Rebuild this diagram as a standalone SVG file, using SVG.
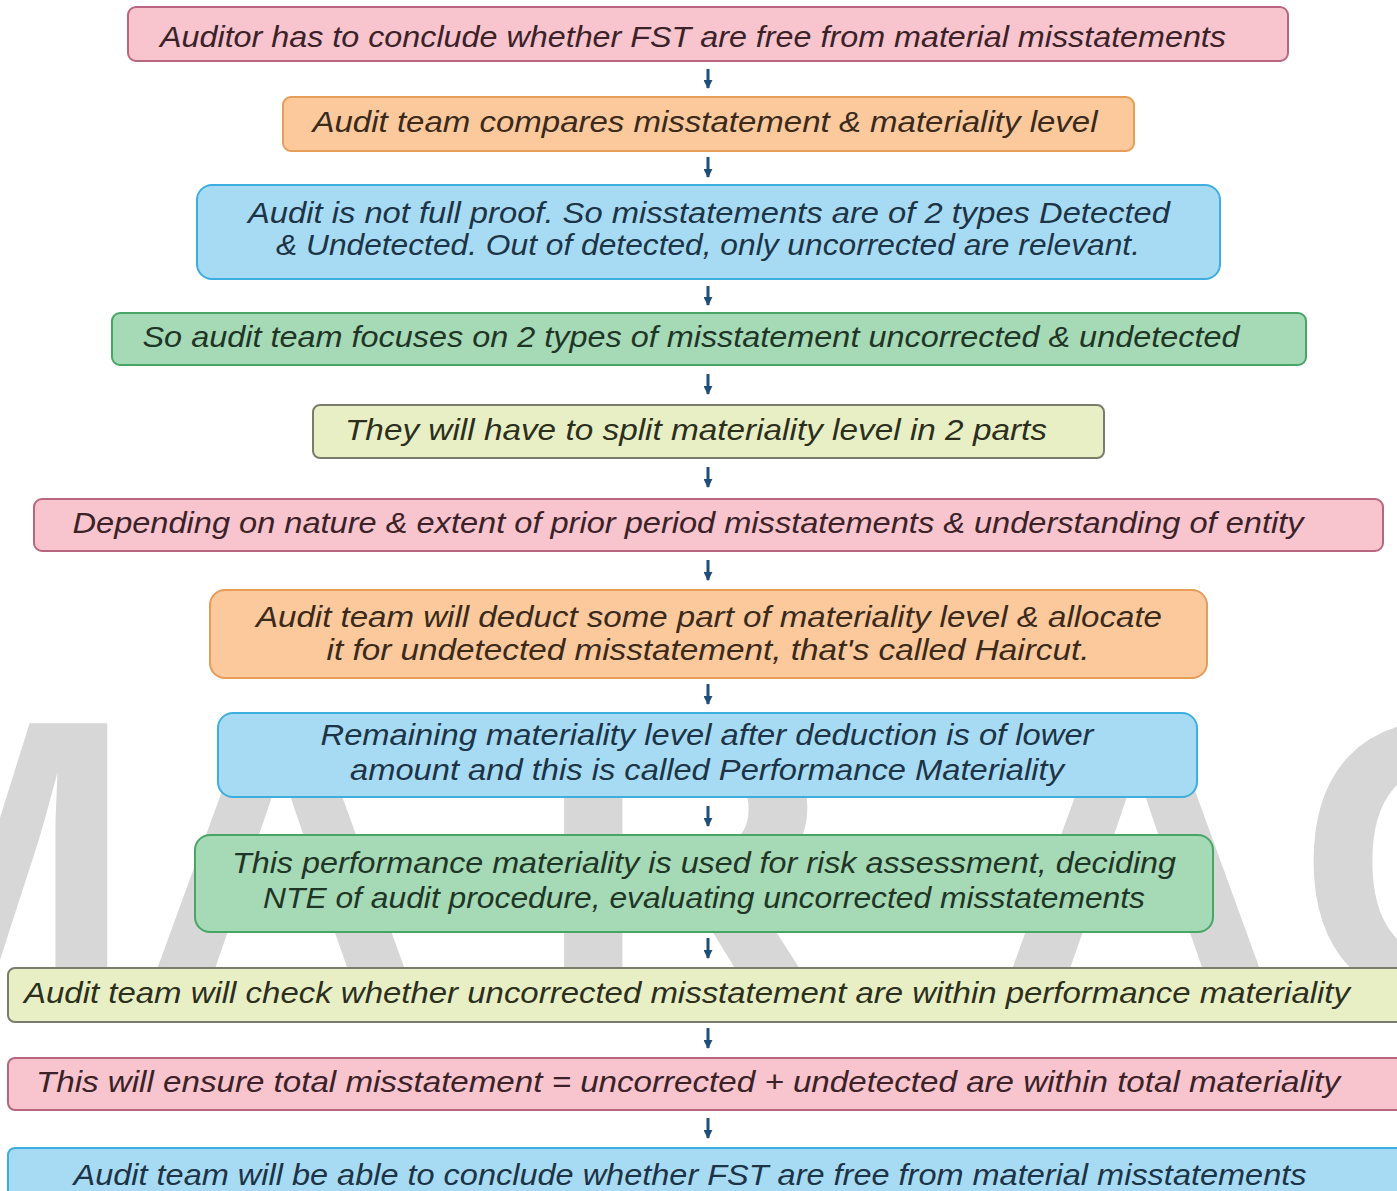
<svg xmlns="http://www.w3.org/2000/svg" width="1397" height="1191" viewBox="0 0 1397 1191">
  <defs>
    <style>
      .t { font-family: "Liberation Sans", "DejaVu Sans", sans-serif; font-style: italic; font-size: 29px; text-anchor: middle; }
      .wm { font-family: "Liberation Sans", Arial, sans-serif; font-weight: bold; font-size: 405px; fill: #d7d7d7; }
      .pink rect { fill: #f8c4cd; stroke: #b8667f; stroke-width: 2; }
      .pink text { fill: #3a2228; }
      .orange rect { fill: #fbc99c; stroke: #e79c58; stroke-width: 2; }
      .orange text { fill: #3a2a1c; }
      .blue rect { fill: #a7dbf4; stroke: #3eaee0; stroke-width: 2; }
      .blue text { fill: #1d3346; }
      .green rect { fill: #a6d9b6; stroke: #47a566; stroke-width: 2; }
      .green text { fill: #1f3626; }
      .yellow rect { fill: #e9efc4; stroke: #7c7c6c; stroke-width: 2; }
      .yellow text { fill: #2c2f1e; }
      .conn line { stroke: #1f4e79; stroke-width: 3; }
    </style>
    <!-- arrowhead drawn along +x so orient="auto" turns it to point down the line -->
    <marker id="head" viewBox="0 0 10 10" refX="9" refY="5" markerWidth="3" markerHeight="3" markerUnits="strokeWidth" orient="auto">
      <path d="M0,0 L10,5 L0,10 Z" fill="#1f4e79"/>
    </marker>
  </defs>

  <rect width="1397" height="1191" fill="#ffffff"/>

  <!-- background watermark lettering -->
  <g id="watermark">
    <text class="wm" x="-203" y="1002">M</text>
    <text class="wm" x="135" y="1002">A</text>
    <text class="wm" x="537" y="1002">R</text>
    <text class="wm" x="990" y="1002">A</text>
    <text class="wm" x="1297" y="1002">C</text>
  </g>

  <!-- connectors -->
  <g id="connectors" class="conn">
    <line x1="708" y1="69" x2="708" y2="88" marker-end="url(#head)"/>
    <line x1="708" y1="157" x2="708" y2="177" marker-end="url(#head)"/>
    <line x1="708" y1="286" x2="708" y2="305" marker-end="url(#head)"/>
    <line x1="708" y1="374" x2="708" y2="394" marker-end="url(#head)"/>
    <line x1="708" y1="467" x2="708" y2="487" marker-end="url(#head)"/>
    <line x1="708" y1="560" x2="708" y2="580" marker-end="url(#head)"/>
    <line x1="708" y1="684" x2="708" y2="704" marker-end="url(#head)"/>
    <line x1="708" y1="806" x2="708" y2="826" marker-end="url(#head)"/>
    <line x1="708" y1="938" x2="708" y2="958" marker-end="url(#head)"/>
    <line x1="708" y1="1028" x2="708" y2="1048" marker-end="url(#head)"/>
    <line x1="708" y1="1118" x2="708" y2="1138" marker-end="url(#head)"/>
  </g>

  <g id="n1" class="pink">
    <rect x="128" y="7" width="1160" height="54" rx="8"/>
    <text class="t" x="693" y="47" textLength="1066" lengthAdjust="spacingAndGlyphs">Auditor has to conclude whether FST are free from material misstatements</text>
  </g>

  <g id="n2" class="orange">
    <rect x="283" y="97" width="851" height="54" rx="8"/>
    <text class="t" x="705" y="132" textLength="785" lengthAdjust="spacingAndGlyphs">Audit team compares misstatement &amp; materiality level</text>
  </g>

  <g id="n3" class="blue">
    <rect x="197" y="185" width="1023" height="94" rx="15"/>
    <text class="t" x="709" y="223" textLength="922" lengthAdjust="spacingAndGlyphs">Audit is not full proof. So misstatements are of 2 types Detected</text>
    <text class="t" x="708" y="255" textLength="864" lengthAdjust="spacingAndGlyphs">&amp; Undetected. Out of detected, only uncorrected are relevant.</text>
  </g>

  <g id="n4" class="green">
    <rect x="112" y="313" width="1194" height="52" rx="8"/>
    <text class="t" x="691" y="347" textLength="1097" lengthAdjust="spacingAndGlyphs">So audit team focuses on 2 types of misstatement uncorrected &amp; undetected</text>
  </g>

  <g id="n5" class="yellow">
    <rect x="313" y="405" width="791" height="53" rx="7"/>
    <text class="t" x="696" y="440" textLength="702" lengthAdjust="spacingAndGlyphs">They will have to split materiality level in 2 parts</text>
  </g>

  <g id="n6" class="pink">
    <rect x="34" y="499" width="1349" height="52" rx="8"/>
    <text class="t" x="688" y="533" textLength="1231" lengthAdjust="spacingAndGlyphs">Depending on nature &amp; extent of prior period misstatements &amp; understanding of entity</text>
  </g>

  <g id="n7" class="orange">
    <rect x="210" y="590" width="997" height="88" rx="15"/>
    <text class="t" x="709" y="627" textLength="906" lengthAdjust="spacingAndGlyphs">Audit team will deduct some part of materiality level &amp; allocate</text>
    <text class="t" x="708" y="660" textLength="763" lengthAdjust="spacingAndGlyphs">it for undetected misstatement, that's called Haircut.</text>
  </g>

  <g id="n8" class="blue">
    <rect x="218" y="713" width="979" height="84" rx="15"/>
    <text class="t" x="707" y="745" textLength="773" lengthAdjust="spacingAndGlyphs">Remaining materiality level after deduction is of lower</text>
    <text class="t" x="707" y="780" textLength="714" lengthAdjust="spacingAndGlyphs">amount and this is called Performance Materiality</text>
  </g>

  <g id="n9" class="green">
    <rect x="195" y="835" width="1018" height="97" rx="15"/>
    <text class="t" x="704" y="873" textLength="944" lengthAdjust="spacingAndGlyphs">This performance materiality is used for risk assessment, deciding</text>
    <text class="t" x="704" y="908" textLength="882" lengthAdjust="spacingAndGlyphs">NTE of audit procedure, evaluating uncorrected misstatements</text>
  </g>

  <g id="n10" class="yellow">
    <rect x="8" y="968" width="1400" height="54" rx="7"/>
    <text class="t" x="687" y="1003" textLength="1326" lengthAdjust="spacingAndGlyphs">Audit team will check whether uncorrected misstatement are within performance materiality</text>
  </g>

  <g id="n11" class="pink">
    <rect x="8" y="1058" width="1400" height="52" rx="7"/>
    <text class="t" x="688" y="1092" textLength="1304" lengthAdjust="spacingAndGlyphs">This will ensure total misstatement = uncorrected + undetected are within total materiality</text>
  </g>

  <g id="n12" class="blue">
    <rect x="8" y="1148" width="1400" height="60" rx="7"/>
    <text class="t" x="690" y="1185" textLength="1233" lengthAdjust="spacingAndGlyphs">Audit team will be able to conclude whether FST are free from material misstatements</text>
  </g>
</svg>
